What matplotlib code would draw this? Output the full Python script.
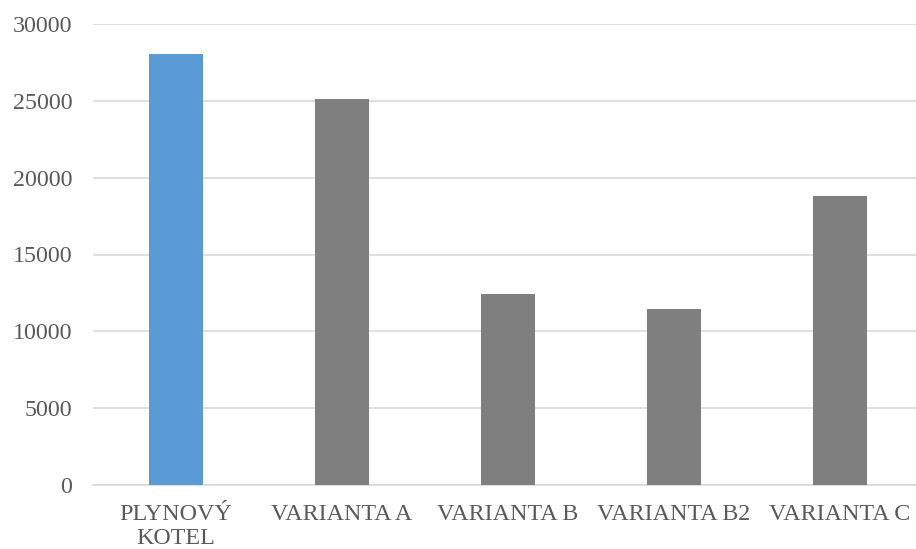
import matplotlib.pyplot as plt

categories = ["PLYNOVÝ\nKOTEL", "VARIANTA A", "VARIANTA B", "VARIANTA B2", "VARIANTA C"]
values = [28060, 25130, 12430, 11460, 18810]
colors = ["#5b9bd5", "#7f7f7f", "#7f7f7f", "#7f7f7f", "#7f7f7f"]
yticks = [0, 5000, 10000, 15000, 20000, 25000, 30000]

plt.rcParams['font.family'] = ['Liberation Serif', 'DejaVu Serif']

fig = plt.figure(figsize=(9.16, 5.49), dpi=100)
ax = fig.add_axes([93/916, 64/549, 823/916, 461/549])

x = range(len(categories))
ax.bar(x, values, width=0.32, color=colors, zorder=3)

ax.set_xlim(-0.5, 4.458)
ax.set_ylim(0, 30000)
ax.set_yticks(yticks)
ax.set_xticks(list(x))
ax.set_xticklabels(categories, linespacing=1.2)
ax.grid(axis='y', color='#d9d9d9', linewidth=1.2, zorder=0)

for s in ['top', 'right', 'left']:
    ax.spines[s].set_visible(False)
ax.spines['bottom'].set_color('#d9d9d9')
ax.spines['bottom'].set_linewidth(1.2)

ax.tick_params(axis='both', length=0, labelsize=17.3, labelcolor='#595959')
ax.tick_params(axis='y', pad=15)
ax.tick_params(axis='x', pad=13.5)

plt.savefig('out.png', dpi=100)
